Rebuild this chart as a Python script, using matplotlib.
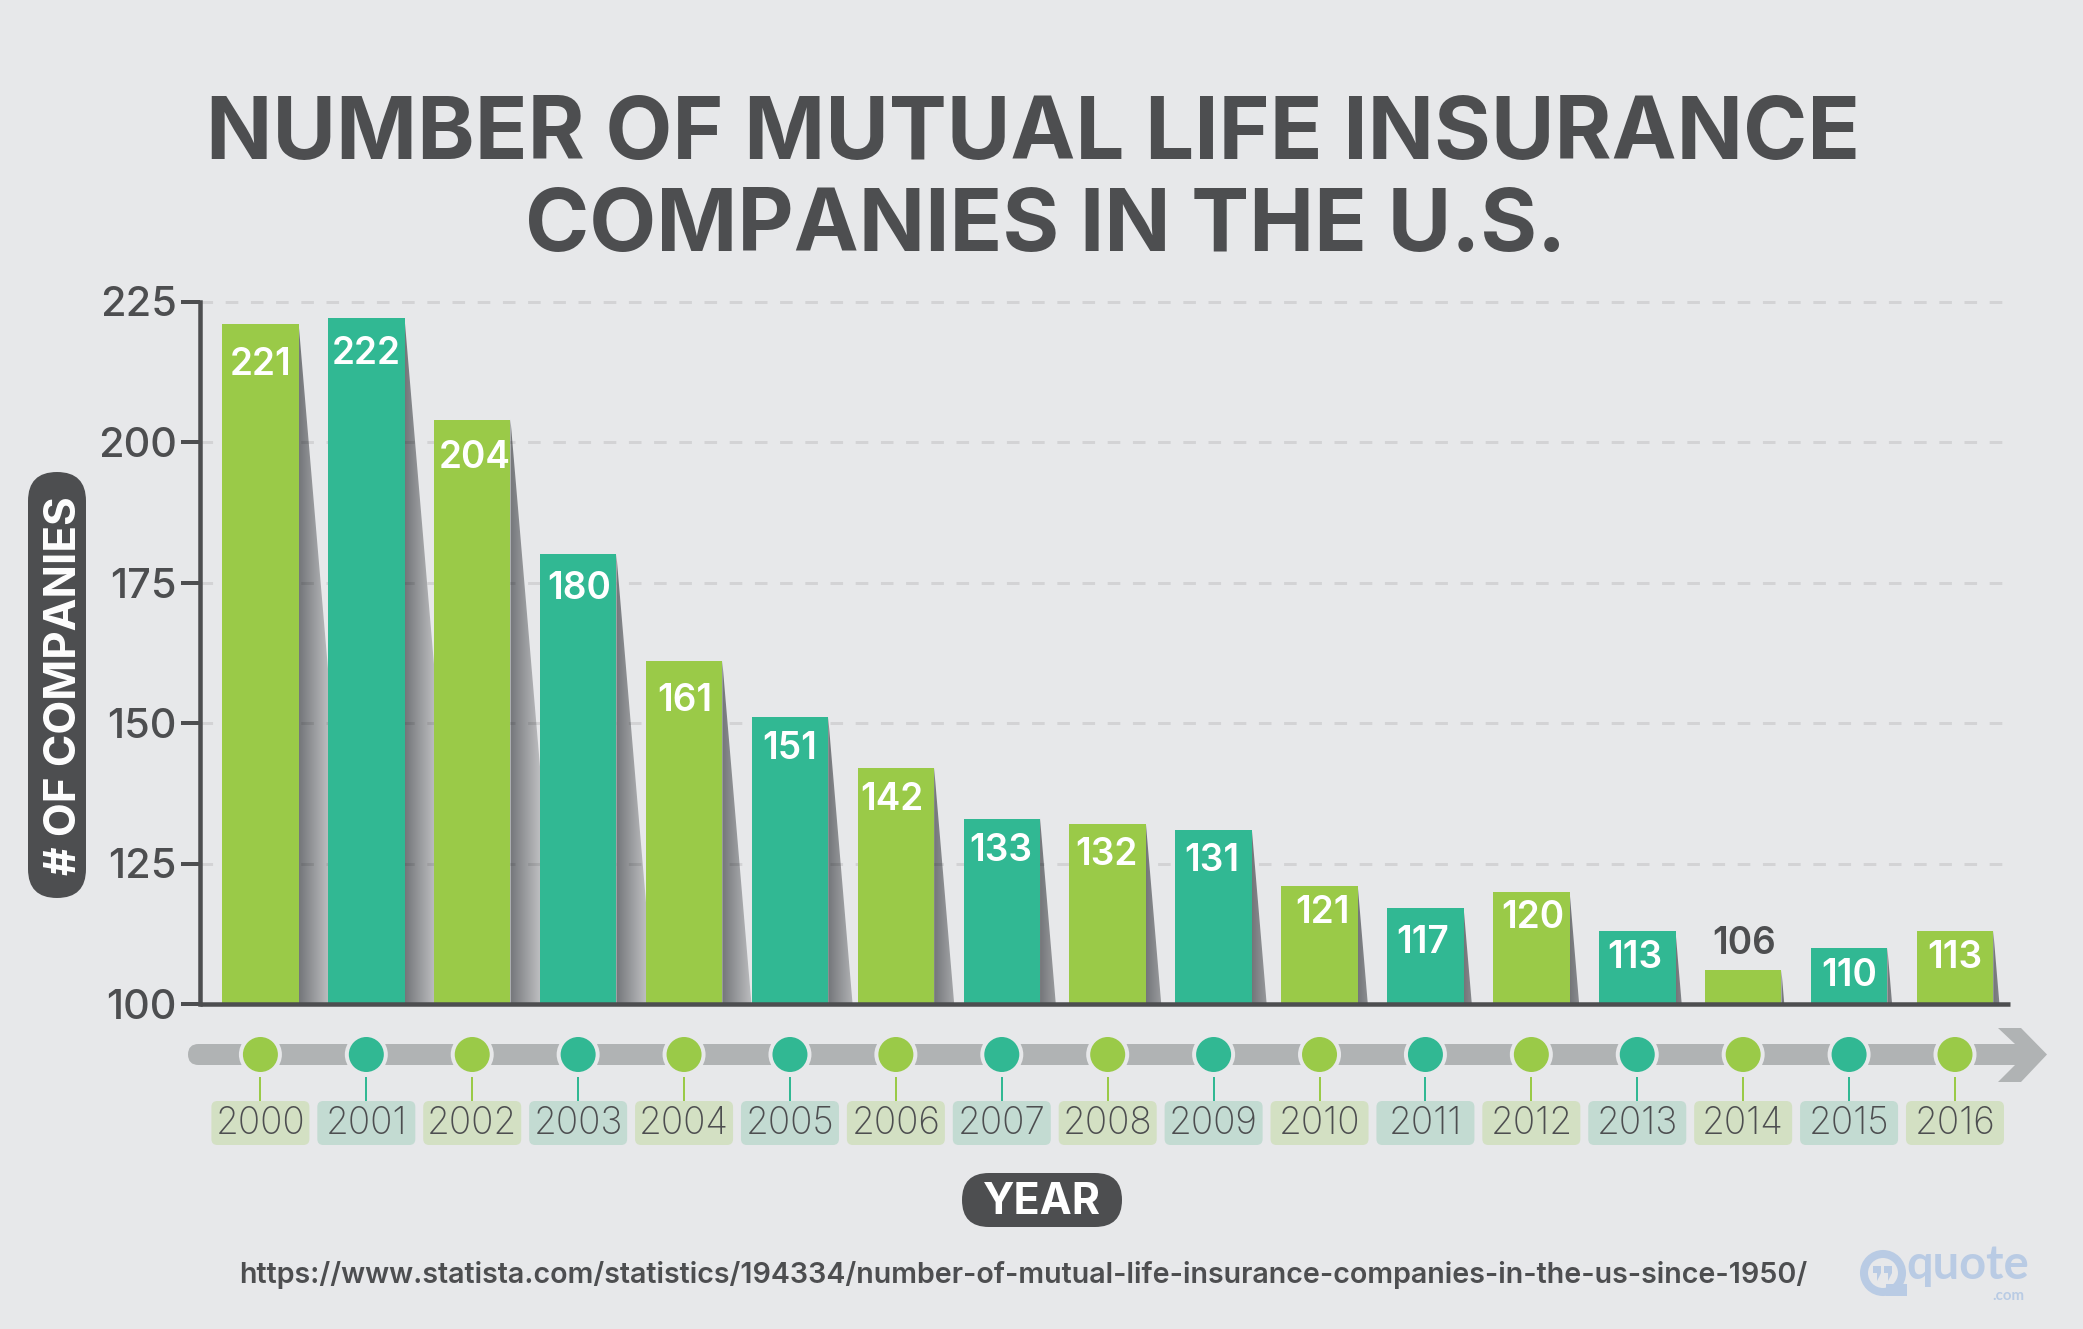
import numpy as np
import matplotlib
matplotlib.use("Agg")
import matplotlib.pyplot as plt
from matplotlib.patches import FancyBboxPatch, Polygon, Circle, Rectangle
from matplotlib.colors import LinearSegmentedColormap

years = list(range(2000, 2017))
companies = [221, 222, 204, 180, 161, 151, 142, 133, 132, 131, 121, 117, 120, 113, 106, 110, 113]
y_ticks = [100, 125, 150, 175, 200, 225]
# distance of each value label's centre below the bar top, in pixels (negative = above)
label_drop = [38, 33, 35, 32, 37, 29, 29, 29, 28, 28, 24, 32, 23, 24, -29, 25, 24]
label_shift = [0, 0, 2, 1, 1, 0, -4, -1, -1, -2, 3, -3, 1, -2, 1, 0, 0]

W, H = 2083, 1329
BG = "#e7e8ea"; DARK = "#4d4e50"; GREEN = "#9aca48"; TEAL = "#31b893"
GREEN_BOX = "#d3e0c3"; TEAL_BOX = "#c3dbd2"; RAIL = "#b0b3b4"; LOGO = "#b9cbe4"
FONT = "Inter"
PT = 72 / 100  # px to points at dpi 100

fig = plt.figure(figsize=(W / 100, H / 100), dpi=100, facecolor=BG)

# overlay in pixel coordinates, y downward
ov = fig.add_axes([0, 0, 1, 1], zorder=5)
ov.set_xlim(0, W); ov.set_ylim(H, 0); ov.axis("off")

# main chart
L, R, T, B = 200, 2010, 301.5, 1004
ax = fig.add_axes([L / W, 1 - B / H, (R - L) / W, (B - T) / H], zorder=2)
ax.set_facecolor("none")
step = 105.9
x0 = 2000 - (260.4 - L) / step
x1 = 2016 + (R - 1955) / step
shadow_cmap = LinearSegmentedColormap.from_list(
    "sh", [(0, "#74767a"), (0.55, "#c6c7c9"), (1, "#d6d7d9")])
grad = np.linspace(0, 1, 128).reshape(1, -1)
bar_w = 76.5 / step
slope = 0.085 / step * (B - T) / 125  # data-x per data-y of shadow edge
span = 60 / step
for yr, v in zip(years, companies):
    r = yr + bar_w / 2
    im = ax.imshow(grad, extent=[r, r + span, 100, v], aspect="auto",
                   cmap=shadow_cmap, zorder=1, interpolation="bilinear")
    poly = Polygon([(r, v), (r + (v - 100) * slope, 100), (r, 100)],
                   closed=True, transform=ax.transData, fc="none", ec="none")
    ax.add_patch(poly)
    im.set_clip_path(poly)

cols = [GREEN if i % 2 == 0 else TEAL for i in range(len(years))]
ax.bar(years, [v - 100 for v in companies], bottom=100, width=bar_w, color=cols, zorder=3)
ax.set_xlim(x0, x1); ax.set_ylim(100, 225)

for s in ["top", "right"]:
    ax.spines[s].set_visible(False)
for s in ["left", "bottom"]:
    ax.spines[s].set_color(DARK)
    ax.spines[s].set_linewidth(4.5 * PT)
    ax.spines[s].set_zorder(4)
ax.spines["bottom"].set_capstyle("butt")
ax.set_xticks([])
ax.set_yticks(y_ticks)
ax.set_axisbelow(False)
ax.tick_params(axis="y", length=19 * PT, width=4 * PT, color=DARK, pad=3,
               labelsize=41.5 * PT, labelcolor=DARK)
for t in ax.get_yticklabels():
    t.set_fontfamily(FONT); t.set_fontweight("medium")
for v in y_ticks[1:]:
    ax.plot([x0, x1], [v, v], color="black", alpha=0.085, lw=3 * PT,
            ls=(0, (4.2, 4.2)), zorder=2.5, dash_capstyle="butt", clip_on=False)

for yr, v, d, sh in zip(years, companies, label_drop, label_shift):
    px = ax.transData.transform((yr, v))
    ov.text(px[0] + sh, H - px[1] + d + 3, str(v), ha="center", va="center",
            color="white" if d > 0 else DARK, fontsize=37 * PT,
            family=FONT, fontweight="semibold", zorder=6)

# timeline
xp = [ax.transData.transform((yr, 100))[0] for yr in years]
rail_y = 1054.5
ov.add_patch(FancyBboxPatch((188, rail_y - 10.5), 2018 - 188, 21,
                            boxstyle="round,pad=0,rounding_size=10.5", fc=RAIL, ec="none", zorder=1))
ov.add_patch(Polygon([(1998, 1028), (2021, 1028), (2047, rail_y), (2021, 1082),
                      (1998, 1082), (2015, 1065), (1990, 1065), (1990, 1044), (2015, 1044)],
                     closed=True, fc=RAIL, ec="none", zorder=1))
for px, c, bc, yr in zip(xp, cols, [GREEN_BOX if c == GREEN else TEAL_BOX for c in cols], years):
    ov.add_patch(Circle((px, rail_y), 21.5, fc=BG, ec="none", zorder=2))
    ov.add_patch(Circle((px, rail_y), 17.5, fc=c, ec="none", zorder=3))
    ov.plot([px, px], [1077, 1101], color=c, lw=2 * PT, zorder=2, solid_capstyle="butt")
    ov.add_patch(FancyBboxPatch((px - 49, 1101), 98, 44,
                                boxstyle="round,pad=0,rounding_size=6", fc=bc, ec="none", zorder=2))
    ov.text(px, 1123.5, str(yr), ha="center", va="center", color=DARK,
            fontsize=37 * PT, family=FONT, fontweight="light", zorder=4)

# title
ov.text(1033, 136, "NUMBER OF MUTUAL LIFE INSURANCE", ha="center", va="center",
        color=DARK, fontsize=87 * PT, family=FONT, fontweight="bold")
ov.text(1046, 228, "COMPANIES IN THE U.S.", ha="center", va="center",
        color=DARK, fontsize=87 * PT, family=FONT, fontweight="bold")

# pills
ov.add_patch(FancyBboxPatch((28, 472), 58, 426, boxstyle="round,pad=0,rounding_size=29",
                            fc=DARK, ec="none"))
ov.text(65, 686, "# OF COMPANIES", rotation=90, ha="center", va="center", color="white",
        fontsize=44 * PT, family=FONT, fontweight="bold")
ov.add_patch(FancyBboxPatch((962, 1173), 160, 54, boxstyle="round,pad=0,rounding_size=27",
                            fc=DARK, ec="none"))
ov.text(1042, 1203, "YEAR", ha="center", va="center", color="white",
        fontsize=43 * PT, family=FONT, fontweight="bold")

# source
ov.text(239, 1275, "https://www.statista.com/statistics/194334/number-of-mutual-life-insurance-companies-in-the-us-since-1950/",
        ha="left", va="center", color=DARK, fontsize=28.65 * PT, family=FONT, fontweight="semibold")

# logo
ov.add_patch(Circle((1883, 1273), 19, fc="none", ec=LOGO, lw=8 * PT))
ov.add_patch(Polygon([(1886, 1284), (1907, 1284), (1907, 1296), (1886, 1296)], closed=True, fc=LOGO, ec="none"))
ov.add_patch(Polygon([(1873, 1266), (1881, 1266), (1881, 1273), (1877, 1281), (1877, 1273), (1873, 1273)], closed=True, fc=LOGO, ec="none"))
ov.add_patch(Polygon([(1884, 1266), (1892, 1266), (1892, 1273), (1888, 1281), (1888, 1273), (1884, 1273)], closed=True, fc=LOGO, ec="none"))
ov.text(1968, 1265, "quote", ha="center", va="center", color=LOGO, fontsize=47 * PT,
        family="Lato", fontweight="bold")
ov.text(2024, 1296, ".com", ha="right", va="center", color=LOGO, fontsize=15 * PT,
        family="Lato", fontweight="bold")

fig.savefig("out.png", dpi=100, facecolor=BG)
